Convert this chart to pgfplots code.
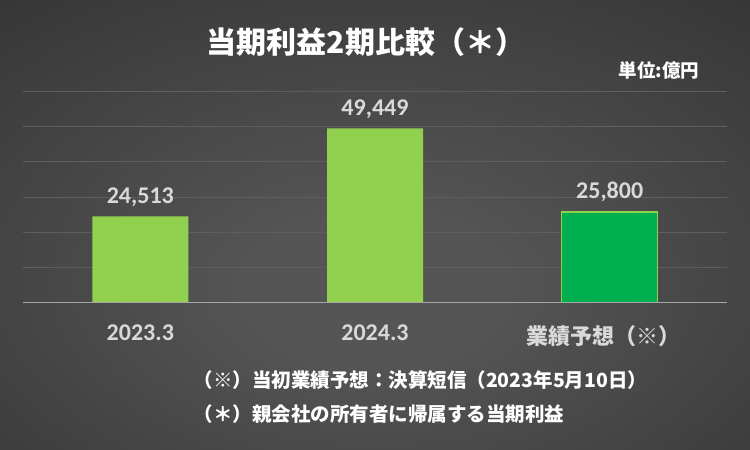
\documentclass[border=0pt]{standalone}
\usepackage{pgfplots}
\pgfplotsset{compat=1.18}
\usepackage{fontspec}
\setmainfont{Carlito}
\newfontfamily\numfont[BoldFont={Carlito Bold}]{Carlito}
\newfontfamily\cjk{Noto Sans CJK JP}

\definecolor{barA}{HTML}{92D050}
\definecolor{barB}{HTML}{00B050}
\definecolor{bgin}{HTML}{555555}
\definecolor{bgout}{HTML}{262626}
\definecolor{labgray}{HTML}{D9D9D9}
\definecolor{gridc}{HTML}{5E5E5E}
\definecolor{basec}{HTML}{A6A6A6}

\pgfdeclareradialshading{bgshade}{\pgfpoint{0bp}{-8bp}}{%
  color(0bp)=(bgin); color(8bp)=(bgin); color(55bp)=(bgout); color(80bp)=(bgout)}

\begin{document}
\begin{tikzpicture}[x=1pt,y=1pt]
\shade[shading=bgshade] (0,0) rectangle (750,450);

\begin{axis}[
    at={(23pt,147.3pt)}, anchor=south west,
    scale only axis,
    width=704pt, height=211.4pt,
    xmin=-0.5, xmax=2.5,
    ymin=0, ymax=60000,
    axis line style={draw=none},
    ytick={10000,20000,30000,40000,50000,60000},
    yticklabels={},
    scaled y ticks=false,
    major tick length=0pt,
    ymajorgrids=true,
    grid style={gridc, line width=1pt},
    xtick={0,1,2},
    xticklabels={{\numfont\bfseries 2023.3},{\numfont\bfseries 2024.3},{\raisebox{-8pt}{\cjk\bfseries\fontsize{22}{25}\selectfont\hspace*{-12pt}業績予想（※）}}},
    xticklabel style={font=\fontsize{24}{28}\selectfont, text=labgray, yshift=-19pt},
    ybar, bar width=96pt, bar shift=0pt,
    nodes near coords,
    every node near coord/.append style={font=\numfont\bfseries\fontsize{24}{28}\selectfont, text=labgray, yshift=6pt},
    /pgf/number format/.cd, fixed, 1000 sep={,}, assume math mode=true,
]
\addplot[fill=barA, draw=none] coordinates {(0,24513) (1,49449)};
\addplot[fill=barB, draw=barA, line width=1.5pt] coordinates {(2,25800)};
\draw[basec, line width=1.8pt] (axis cs:-0.5,0) -- (axis cs:2.5,0);
\end{axis}

\node[text=white, font=\cjk\bfseries\fontsize{30}{33}\selectfont] at (366,408) {当期利益2期比較（＊）};
\node[text=white, font=\cjk\bfseries\fontsize{18.5}{21}\selectfont] at (659,380) {単位:億円};
\node[text=white, anchor=west, font=\cjk\bfseries\fontsize{19.5}{22}\selectfont] at (190,70) {（※）当初業績予想：決算短信（2023年5月10日）};
\node[text=white, anchor=west, font=\cjk\bfseries\fontsize{19.5}{22}\selectfont] at (190,36) {（＊）親会社の所有者に帰属する当期利益};
\end{tikzpicture}
\end{document}
